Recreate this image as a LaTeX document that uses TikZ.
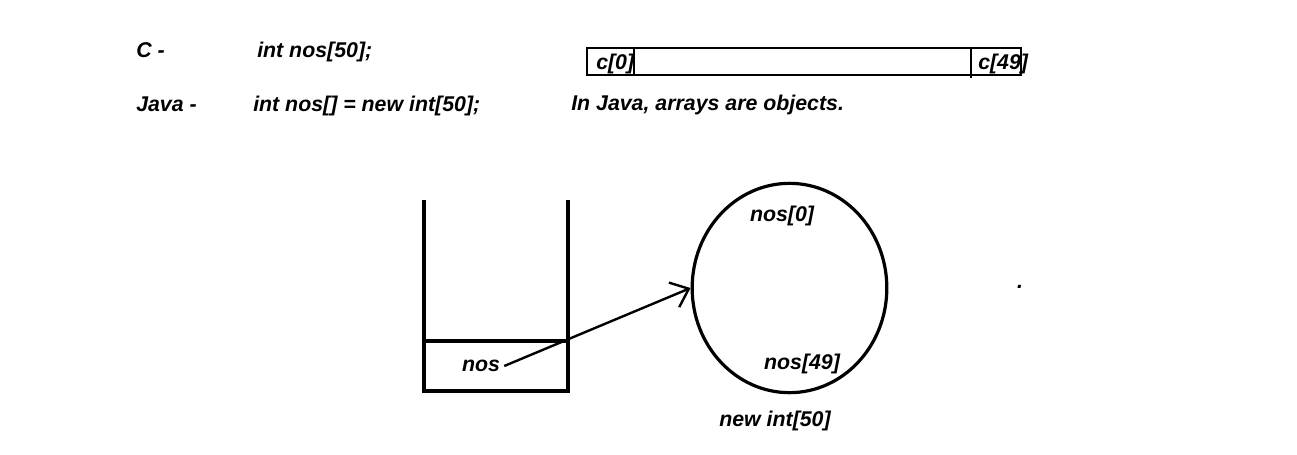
\documentclass[tikz,border=0pt]{standalone}
\usepackage{fontspec}
\setmainfont{Liberation Sans}
\usetikzlibrary{arrows.meta, positioning, shapes.geometric}

\tikzset{
  code/.style={font=\bfseries\itshape\fontsize{16}{19}\selectfont, inner sep=0pt},
  ref/.style={-{Straight Barb[length=12pt, width=20pt, line width=1.8pt]}, line width=1.8pt},
  frame/.style={line width=2.4pt}
}

\begin{document}
\begin{tikzpicture}[x=0.75pt, y=-0.75pt]
    \useasboundingbox (0,0) rectangle (1297,454);

    % Declarations
    \node[code, anchor=base west] (clang) at (136,57) {C -};
    \node[code, anchor=base west] (cdecl) at (257,57) {int nos[50];};
    \node[code, anchor=base west] (java) at (136,111) {Java -};
    \node[code, anchor=base west] (jdecl) at (253,111) {int nos[] = new int[50];};
    \node[code, anchor=base west] (note) at (571,110) {In Java, arrays are objects.};

    % C array
    \draw[line width=0.8pt] (587,48) rectangle (1021,75);
    \draw[line width=0.8pt] (634,48) -- (634,75);
    \draw[line width=0.8pt] (971,48) -- (971,78);
    \node[code, anchor=base west] (cfirst) at (596,69) {c[0]};
    \node[code, anchor=base west] (clast) at (978,69) {c[49]};

    % Stack
    \draw[frame] (424,200) -- (424,391) -- (568,391) -- (568,200);
    \draw[frame] (424,341) -- (568,341);
    \node[code, inner sep=3pt] (nos) at (481,366) {nos};

    % Heap object
    \node[draw, ellipse, frame, minimum width=146pt, minimum height=157pt, inner sep=0pt] (heap) at (789.5,288) {};
    \node[code] (first) at (782,216) {nos[0]};
    \node[code] (last) at (802,364) {nos[49]};
    \node[code] (newarr) at (775,421) {new int[50]};

    \draw[ref] (nos.east) -- (heap.west);

    \node[code, anchor=base] (dot) at (1020,288) {.};
\end{tikzpicture}
\end{document}
